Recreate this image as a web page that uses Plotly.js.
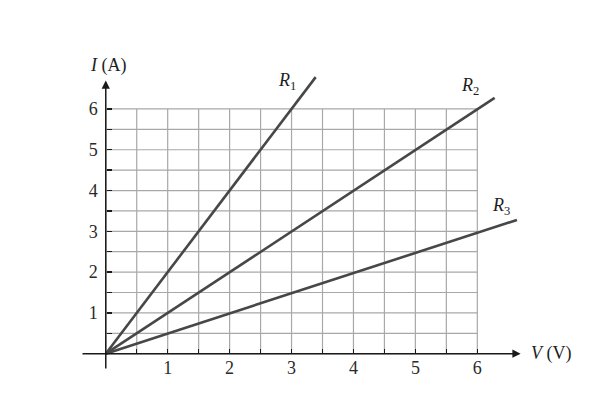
<!DOCTYPE html>
<html>
<head>
<meta charset="utf-8">
<script src="https://cdn.plot.ly/plotly-3.0.1.min.js"></script>
<style>
  body { margin: 0; background: #fff; }
  #chart { width: 604px; height: 412px; }
</style>
</head>
<body>
<div id="chart"></div>
<script>
// I-V lines for three resistors
const names = ["R1", "R2", "R3"];
const vR1 = [0, 3.39];
const iR1 = [0, 6.78];
const vR2 = [0, 6.28];
const iR2 = [0, 6.27];
const vR3 = [0, 6.64];
const iR3 = [0, 3.28];

// labelled ticks on whole numbers, short ticks on every half
const tickVals = [1, 2, 3, 4, 5, 6];
const tickText = ["1", "2", "3", "4", "5", "6"];
const halfVals = [0.5, 1, 1.5, 2, 2.5, 3, 3.5, 4, 4.5, 5, 5.5, 6];
const gridVals = [0, 0.5, 1, 1.5, 2, 2.5, 3, 3.5, 4, 4.5, 5, 5.5, 6];

const xRange = [-0.4, 7.4];
const yRange = [-0.4, 7.2];

const serif = "'Liberation Serif', 'Times New Roman', serif";
const lineColor = "#474747";

let traces = [
    {x: vR1, y: iR1, name: names[0]},
    {x: vR2, y: iR2, name: names[1]},
    {x: vR3, y: iR3, name: names[2]}
].map(t => ({
    ...t,
    type: "scatter",
    mode: "lines",
    line: {color: lineColor, width: 2.6},
    hoverinfo: "x+y"
}));

// grid only covers 0..6 in both directions
let shapes = [];
gridVals.forEach(g => {
    shapes.push({type: "line", xref: "x", yref: "y", x0: g, x1: g, y0: 0, y1: 6,
        line: {color: "#a8a8a8", width: 1.2}, layer: "below"});
    shapes.push({type: "line", xref: "x", yref: "y", x0: 0, x1: 6, y0: g, y1: g,
        line: {color: "#a8a8a8", width: 1.2}, layer: "below"});
});

let annotations = [
    // axes with arrow heads
    {x: 6.7, y: 0, ax: -0.4, ay: 0, xref: "x", yref: "y", axref: "x", ayref: "y",
     showarrow: true, arrowhead: 2, arrowsize: 1.1, arrowwidth: 1.5, arrowcolor: "#1a1a1a", text: ""},
    {x: 0, y: 6.7, ax: 0, ay: -0.4, xref: "x", yref: "y", axref: "x", ayref: "y",
     showarrow: true, arrowhead: 2, arrowsize: 1.1, arrowwidth: 1.5, arrowcolor: "#1a1a1a", text: ""},
    // axis titles
    {x: 0.05, y: 7.07, xref: "x", yref: "y", showarrow: false,
     text: "<i>I</i> (A)", font: {family: serif, size: 18, color: "#1e1e1e"}},
    {x: 7.2, y: 0.0, xref: "x", yref: "y", showarrow: false,
     text: "<i>V</i> (V)", font: {family: serif, size: 18, color: "#1e1e1e"}},
    // line labels
    {x: 2.92, y: 6.68, xref: "x", yref: "y", showarrow: false,
     text: "<i>R</i><sub>1</sub>", font: {family: serif, size: 18, color: "#1e1e1e"}},
    {x: 5.88, y: 6.55, xref: "x", yref: "y", showarrow: false,
     text: "<i>R</i><sub>2</sub>", font: {family: serif, size: 18, color: "#1e1e1e"}},
    {x: 6.38, y: 3.62, xref: "x", yref: "y", showarrow: false,
     text: "<i>R</i><sub>3</sub>", font: {family: serif, size: 18, color: "#1e1e1e"}}
];

let axisCommon = {
    tickvals: tickVals,
    ticktext: tickText,
    ticks: "inside",
    ticklen: 5,
    tickwidth: 1.5,
    tickcolor: "#1a1a1a",
    minor: {tickvals: halfVals, ticks: "inside", ticklen: 5, tickwidth: 1.3, tickcolor: "#1a1a1a", showgrid: false},
    showgrid: false,
    zeroline: false,
    showline: false,
    fixedrange: true,
    anchor: "free",
    tickfont: {family: serif, size: 18, color: "#2a2a2a"}
};

let layout = {
    width: 604,
    height: 412,
    margin: {l: 81, r: 39.5, t: 59.5, b: 42.4},
    paper_bgcolor: "#fff",
    plot_bgcolor: "#fff",
    showlegend: false,
    xaxis: {...axisCommon, range: xRange, position: 0.4 / 7.6, ticklabelstandoff: 1},
    yaxis: {...axisCommon, range: yRange, position: 0.4 / 7.8, ticklabelstandoff: 8},
    shapes: shapes,
    annotations: annotations
};

Plotly.newPlot("chart", traces, layout, {displayModeBar: false, staticPlot: true});
</script>
</body>
</html>
